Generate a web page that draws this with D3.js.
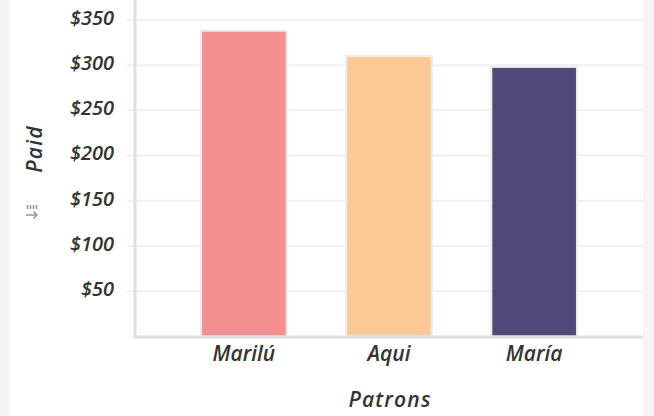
<!DOCTYPE html>
<html>
<head>
<meta charset="utf-8">
<script src="https://cdn.jsdelivr.net/npm/d3@7"></script>
<style>
  body { margin: 0; background: #fff; }
  text { font-family: 'Open Sans', sans-serif; font-weight: 600; font-style: italic; fill: #333; }
</style>
</head>
<body>
<div id="chart"></div>
<script>
let patrons = ['Marilú', 'Aqui', 'María']
let paid = [338, 310, 298]
let barColors = ['#f68f8f', '#fdca97', '#524779']
let yTicks = [50, 100, 150, 200, 250, 300, 350]

let margin = { top: 0, left: 135, right: 11, bottom: 80 }
let totalWidth = 654
let totalHeight = 416
let width = totalWidth - margin.left - margin.right
let height = totalHeight - margin.top - margin.bottom

let root = d3
  .select('#chart')
  .append('svg')
  .attr('width', totalWidth)
  .attr('height', totalHeight)

// grey page edges
root.append('rect').attr('x', 0).attr('y', 0).attr('width', 10).attr('height', totalHeight).attr('fill', '#f5f5f5')
root.append('rect').attr('x', 643).attr('y', 0).attr('width', 11).attr('height', totalHeight).attr('fill', '#f5f5f5')

let svg = root.append('g').attr('transform', `translate(${margin.left}, ${margin.top})`)

let xPositionScale = d3
  .scaleBand()
  .domain(patrons)
  .range([0, width])
  .paddingInner(0.41)
  .paddingOuter(0.455)

let yPositionScale = d3.scaleLinear().domain([0, 372]).range([height + 0.5, 0])

// gridlines
svg
  .selectAll('.grid')
  .data(yTicks)
  .enter()
  .append('line')
  .attr('class', 'grid')
  .attr('x1', -8)
  .attr('x2', width)
  .attr('y1', d => yPositionScale(d))
  .attr('y2', d => yPositionScale(d))
  .attr('stroke', '#f0f0f0')
  .attr('stroke-width', 2)

let yAxis = d3
  .axisLeft(yPositionScale)
  .tickValues(yTicks)
  .tickFormat(d => '$' + d)
  .tickSize(0)
  .tickPadding(21)
svg
  .append('g')
  .attr('class', 'axis y-axis')
  .call(yAxis)
  .call(g => g.select('.domain').remove())
  .call(g =>
    g
      .selectAll('text')
      .attr('font-size', 20)
      .attr('dy', '0.22em')
  )

svg
  .selectAll('.bar')
  .data(patrons)
  .enter()
  .append('rect')
  .attr('class', 'bar')
  .attr('x', d => xPositionScale(d))
  .attr('width', xPositionScale.bandwidth())
  .attr('y', (d, i) => yPositionScale(paid[i]))
  .attr('height', (d, i) => yPositionScale(0) - yPositionScale(paid[i]))
  .attr('fill', (d, i) => barColors[i])
  .attr('stroke', '#ececec')
  .attr('stroke-width', 2)

// axis lines
svg
  .append('line')
  .attr('x1', 0).attr('x2', 0)
  .attr('y1', 0).attr('y2', height + 2)
  .attr('stroke', '#dfdfdf')
  .attr('stroke-width', 3)
svg
  .append('line')
  .attr('x1', -1.5).attr('x2', width)
  .attr('y1', height + 1).attr('y2', height + 1)
  .attr('stroke', '#dfdfdf')
  .attr('stroke-width', 3)

let xAxis = d3.axisBottom(xPositionScale).tickSize(0).tickPadding(10)
svg
  .append('g')
  .attr('class', 'axis x-axis')
  .attr('transform', `translate(0, ${height})`)
  .call(xAxis)
  .call(g => g.select('.domain').remove())
  .call(g => g.selectAll('text').attr('font-size', 21))

svg
  .append('text')
  .attr('text-anchor', 'middle')
  .attr('x', width / 2 + 1)
  .attr('y', height + 71)
  .attr('font-size', 21)
  .attr('letter-spacing', 1.2)
  .text('Patrons')

root
  .append('text')
  .attr('text-anchor', 'middle')
  .attr('transform', 'translate(42, 149) rotate(-90)')
  .attr('font-size', 21)
  .attr('letter-spacing', 1.2)
  .text('Paid')

// small sort icon under the y title
let icon = root.append('g').attr('transform', 'translate(26, 205)').attr('stroke', '#8f8f8f').attr('stroke-width', 1.4)
d3.range(4).forEach(i => {
  icon.append('line').attr('x1', 1.5 + i * 3).attr('x2', 1.5 + i * 3).attr('y1', 0).attr('y2', 4)
})
icon.append('line').attr('x1', 0).attr('x2', 11).attr('y1', 10).attr('y2', 10)
icon.append('path').attr('d', 'M7.5,6.5 L11,10 L7.5,13.5').attr('fill', 'none')
</script>
</body>
</html>
